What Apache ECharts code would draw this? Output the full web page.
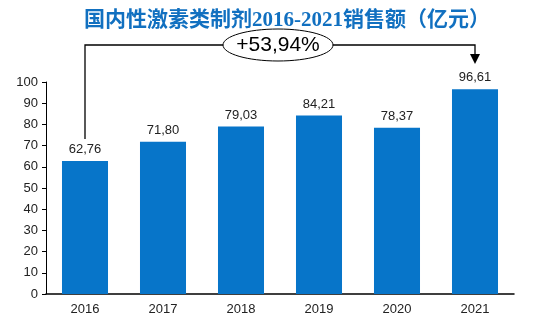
<!DOCTYPE html>
<html>
<head>
<meta charset="utf-8">
<script src="https://cdn.jsdelivr.net/npm/echarts@6/dist/echarts.min.js"></script>
<style>html,body{margin:0;padding:0;background:#fff}#c{width:544px;height:322px}</style>
</head>
<body>
<div id="c"></div>
<script>
var categories = ['2016', '2017', '2018', '2019', '2020', '2021'];
var sales = [62.76, 71.80, 79.03, 84.21, 78.37, 96.61];
var yTicks = [0, 10, 20, 30, 40, 50, 60, 70, 80, 90, 100];
var growthLabel = '+53,94%';
var titleText = '国内性激素类制剂2016-2021销售额（亿元）';

var chart = echarts.init(document.getElementById('c'));
function fmt(v) { return v.toFixed(2).replace('.', ','); }
chart.setOption({
  animation: false,
  title: {
    text: titleText,
    left: 282, top: 5, textAlign: 'center',
    textStyle: { color: '#1170C0', fontSize: 21, fontWeight: 'bold', fontFamily: 'Liberation Serif, "Noto Sans CJK SC"' }
  },
  grid: { left: 46, right: 30, top: 82, bottom: 28, containLabel: false },
  xAxis: {
    type: 'category', data: categories,
    axisLine: { lineStyle: { color: '#000', width: 1.5 } },
    axisTick: { show: false },
    axisLabel: { color: '#222', fontSize: 13, fontFamily: 'Liberation Sans', margin: 9 }
  },
  yAxis: {
    type: 'value', min: yTicks[0], max: yTicks[yTicks.length - 1], interval: 10,
    axisLine: { show: true, lineStyle: { color: '#000', width: 1 } },
    axisTick: { show: true, length: 4, lineStyle: { color: '#000' } },
    splitLine: { show: false },
    axisLabel: { color: '#222', fontSize: 13, fontFamily: 'Liberation Sans', margin: 8 }
  },
  series: [{
    type: 'bar', data: sales, barWidth: '59%',
    itemStyle: { color: '#0775C9' },
    label: { show: true, position: 'top', distance: 5, color: '#222', fontSize: 13, fontFamily: 'Liberation Sans',
      formatter: function (p) { return fmt(p.value); } }
  }]
});

var p0 = chart.convertToPixel({ seriesIndex: 0 }, [0, sales[0]]);
var p1 = chart.convertToPixel({ seriesIndex: 0 }, [5, sales[5]]);
var lineY = 45;
var cx = 278;
chart.setOption({
  graphic: [
    { type: 'polyline', shape: { points: [[p0[0], p0[1] - 22], [p0[0], lineY], [p1[0], lineY], [p1[0], lineY + 10]] },
      style: { stroke: '#000', lineWidth: 1.3, fill: null } },
    { type: 'polygon', shape: { points: [[p1[0] - 5, lineY + 9], [p1[0] + 5, lineY + 9], [p1[0], lineY + 19]] },
      style: { fill: '#000' } },
    { type: 'ellipse', shape: { cx: cx, cy: lineY, rx: 55, ry: 16 },
      style: { fill: '#fff', stroke: '#000', lineWidth: 1 } },
    { type: 'text', x: cx, y: lineY, style: { text: growthLabel, fill: '#000', fontSize: 21, fontFamily: 'Liberation Sans Narrow, Liberation Sans',
      align: 'center', verticalAlign: 'middle' } }
  ]
});
</script>
</body>
</html>
